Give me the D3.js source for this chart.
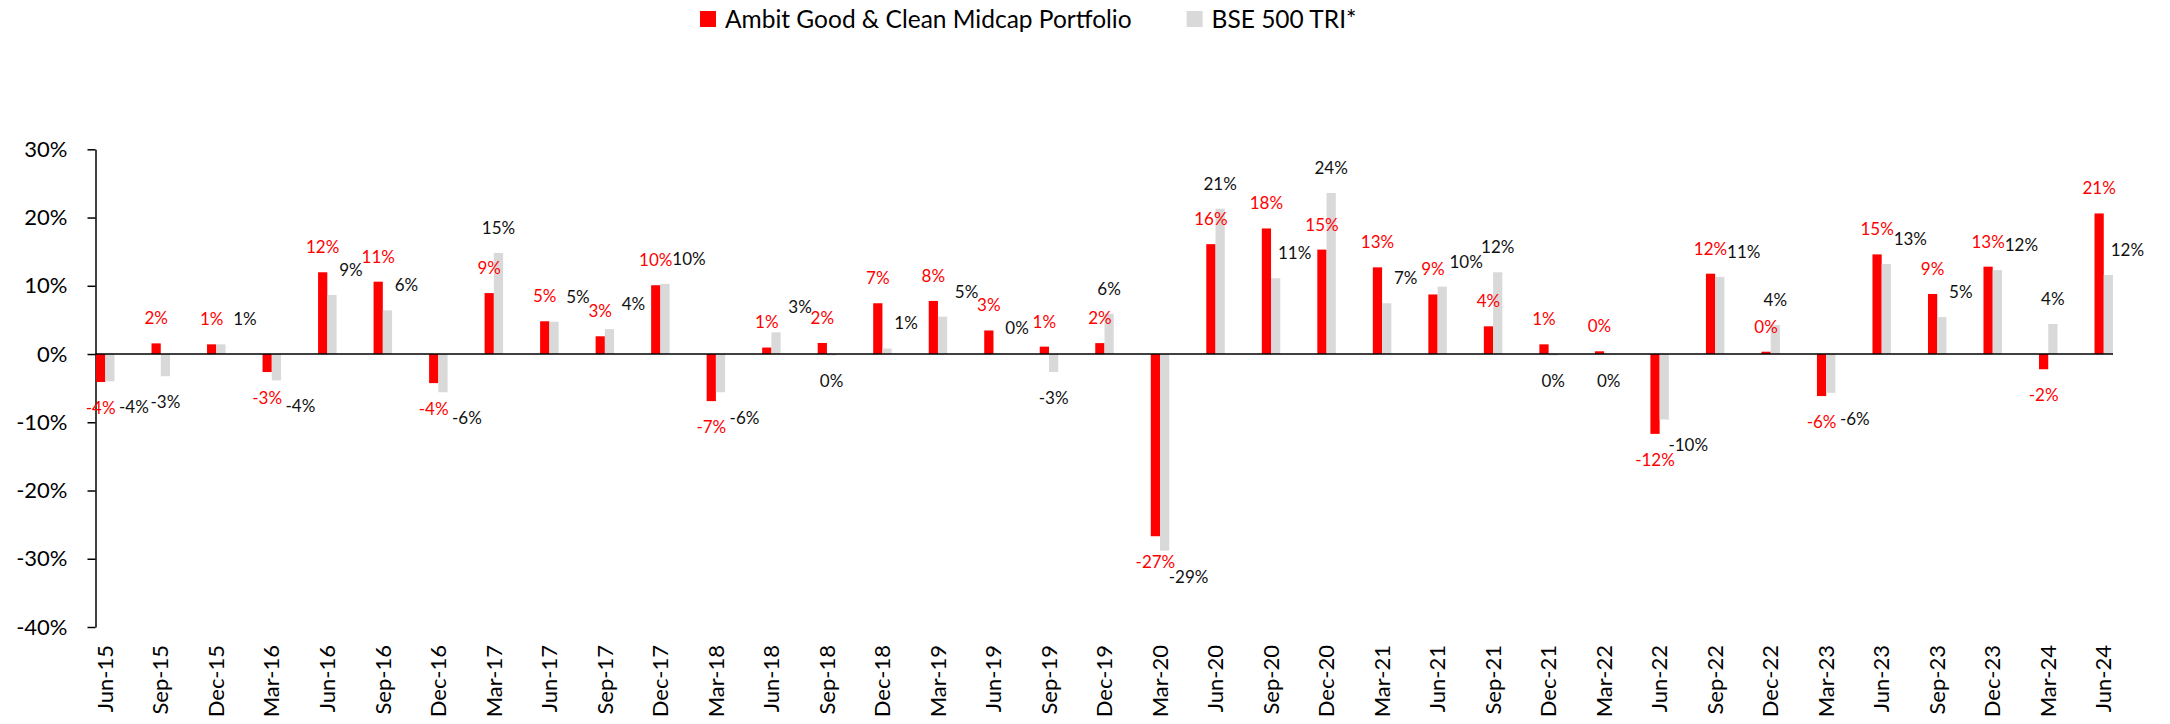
<!DOCTYPE html>
<html>
<head>
<meta charset="utf-8">
<script src="https://cdn.jsdelivr.net/npm/d3@7"></script>
<style>
  html, body { margin: 0; padding: 0; background: #fff; }
  svg { display: block; font-family: Lato, "Noto Sans", sans-serif; }
</style>
</head>
<body>
<svg id="chart" width="2170" height="724"></svg>
<script>
// quarterly returns, in %
var quarters = ["Jun-15", "Sep-15", "Dec-15", "Mar-16", "Jun-16", "Sep-16", "Dec-16", "Mar-17", "Jun-17",
  "Sep-17", "Dec-17", "Mar-18", "Jun-18", "Sep-18", "Dec-18", "Mar-19", "Jun-19", "Sep-19", "Dec-19",
  "Mar-20", "Jun-20", "Sep-20", "Dec-20", "Mar-21", "Jun-21", "Sep-21", "Dec-21", "Mar-22", "Jun-22",
  "Sep-22", "Dec-22", "Mar-23", "Jun-23", "Sep-23", "Dec-23", "Mar-24", "Jun-24"];

var portfolio = [-4.1, 1.56, 1.42, -2.64, 11.98, 10.6, -4.26, 8.93, 4.8,
  2.6, 10.08, -6.9, 0.95, 1.62, 7.44, 7.78, 3.45, 1.08, 1.6,
  -26.7, 16.1, 18.4, 15.3, 12.7, 8.73, 4.06, 1.42, 0.4, -11.7,
  11.77, 0.34, -6.16, 14.6, 8.8, 12.8, -2.23, 20.6];

var benchmark = [-4.0, -3.25, 1.42, -3.86, 8.66, 6.4, -5.6, 14.82, 4.74,
  3.65, 10.28, -5.6, 3.18, -0.2, 0.81, 5.48, 0.1, -2.64, 5.89,
  -28.8, 21.3, 11.1, 23.6, 7.44, 9.88, 11.98, -0.2, -0.1, -9.6,
  11.3, 4.26, -5.68, 13.2, 5.41, 12.3, 4.4, 11.57];

var seriesNames = ["Ambit Good & Clean Midcap Portfolio", "BSE 500 TRI*"];
var yTicks = [-40, -30, -20, -10, 0, 10, 20, 30];

var colors = ["#ff0000", "#d9d9d9"];
var labelColors = ["#ff0000", "#111111"];

var svg = d3.select("#chart");

var x0 = d3.scaleBand()
  .domain(quarters)
  .range([96, 2113])
  .paddingInner(0.667)
  .paddingOuter(0);

var x1 = d3.scaleBand()
  .domain([0, 1])
  .range([0, x0.bandwidth()]);

var y = d3.scaleLinear()
  .domain([-40, 30])
  .range([627, 149.3]);

var fmt = function(v) {
  var r = Math.round(v);
  return (r === 0 ? 0 : r) + "%";
};

// legend
var legend = svg.append("g").attr("class", "legend");
var lx = 700;
seriesNames.forEach(function(name, i) {
  var item = legend.append("g").attr("transform", "translate(" + lx + ",0)");
  item.append("rect")
    .attr("x", 0).attr("y", 11)
    .attr("width", 16).attr("height", 16)
    .attr("fill", colors[i]);
  var t = item.append("text")
    .attr("x", 25).attr("y", 19)
    .attr("dy", "0.35em")
    .attr("font-size", 24.5)
    .attr("fill", "#000")
    .text(name);
  lx += 25 + t.node().getComputedTextLength() + 55;
});

// y axis
var yAxis = svg.append("g")
  .attr("transform", "translate(95.5,0)")
  .call(d3.axisLeft(y)
    .tickValues(yTicks)
    .tickFormat(function(d) { return d + "%"; })
    .tickSize(8)
    .tickPadding(20)
    .tickSizeOuter(0));
yAxis.selectAll("text").attr("font-size", 22).attr("fill", "#000").attr("font-family", "Lato, sans-serif");
yAxis.selectAll("line, path").attr("stroke", "#000").attr("stroke-width", 1.5);

// bars
var rows = quarters.map(function(q, i) {
  return { q: q, vals: [portfolio[i], benchmark[i]] };
});

var groups = svg.append("g").selectAll("g")
  .data(rows)
  .join("g")
  .attr("transform", function(d) { return "translate(" + x0(d.q) + ",0)"; });

groups.selectAll("rect")
  .data(function(d) { return d.vals; })
  .join("rect")
  .attr("x", function(d, i) { return x1(i); })
  .attr("width", x1.bandwidth())
  .attr("y", function(d) { return y(Math.max(0, d)); })
  .attr("height", function(d) { return Math.abs(y(d) - y(0)); })
  .attr("fill", function(d, i) { return colors[i]; });

// zero line
svg.append("line")
  .attr("x1", 95.5).attr("x2", x0.range()[1])
  .attr("y1", y(0)).attr("y2", y(0))
  .attr("stroke", "#000").attr("stroke-width", 1.5);

// data labels: benchmark label moves right when it would hit the red bar or label
function labelY(v) {
  return v >= 0 ? y(v) - 25 : y(v) + 26;
}

groups.each(function(d) {
  var g = d3.select(this);
  var r = d.vals[0], b = d.vals[1];
  var shift = 0;
  if ((r >= 0) === (b >= 0)) {
    var close = Math.abs(labelY(r) - labelY(b)) < 16;
    var beyond = r >= 0 ? y(r) < y(b) - 18 : y(r) > y(b) + 18;
    if (close) shift = 24;
    else if (beyond) shift = 19;
  }
  d.vals.forEach(function(v, i) {
    g.append("text")
      .attr("x", x1(i) + x1.bandwidth() / 2 + (i === 1 ? shift : 0))
      .attr("y", labelY(v))
      .attr("dy", "0.35em")
      .attr("text-anchor", "middle")
      .attr("font-size", 17)
      .attr("fill", labelColors[i])
      .text(fmt(v));
  });
});

// category labels
var xAxis = svg.append("g")
  .attr("transform", "translate(0,645)")
  .call(d3.axisBottom(x0).tickSize(0).tickPadding(0));
xAxis.select(".domain").remove();
xAxis.selectAll("text")
  .attr("font-size", 22)
  .attr("fill", "#000")
  .attr("font-family", "Lato, sans-serif")
  .attr("text-anchor", "end")
  .attr("transform", "rotate(-90)")
  .attr("x", 0)
  .attr("y", 0)
  .attr("dy", "0.35em");
</script>
</body>
</html>
